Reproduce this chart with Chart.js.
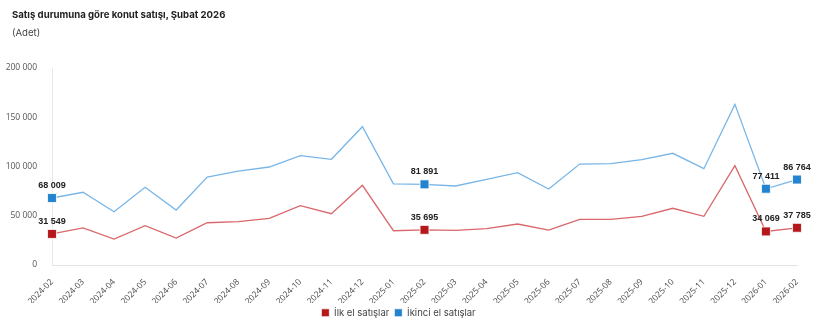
<!DOCTYPE html>
<html>
<head>
<meta charset="utf-8">
<script src="https://cdn.jsdelivr.net/npm/chart.js@4.4.1/dist/chart.umd.min.js"></script>
<style>
  html, body { margin: 0; padding: 0; background: #fff; }
  #wrap { position: relative; width: 820px; height: 323px; }
  #title { position: absolute; left: 12px; top: 9px; font: bold 9.6px Inter, "Noto Sans", sans-serif; color: #222; }
  #sub { position: absolute; left: 12px; top: 27px; font: 9.6px Inter, "Noto Sans", sans-serif; color: #444; }
</style>
</head>
<body>
<div id="wrap">
  <canvas id="chart" width="820" height="323"></canvas>
  <div id="title">Satış durumuna göre konut satışı, Şubat 2026</div>
  <div id="sub">(Adet)</div>
</div>
<script>
// months
const months = [
  "2024-02", "2024-03", "2024-04", "2024-05", "2024-06", "2024-07", "2024-08",
  "2024-09", "2024-10", "2024-11", "2024-12", "2025-01", "2025-02", "2025-03",
  "2025-04", "2025-05", "2025-06", "2025-07", "2025-08", "2025-09", "2025-10",
  "2025-11", "2025-12", "2026-01", "2026-02"
];

// ilk el satışlar (first-hand)
const ilkEl = [
  31549, 37600, 26400, 39900, 27400, 42900, 44000, 47400, 60200, 52100, 80900,
  34800, 35695, 35200, 36900, 41600, 35500, 46400, 46400, 49400, 57600, 49400,
  100800, 34069, 37785
];

// ikinci el satışlar (second-hand)
const ikinciEl = [
  68009, 73800, 54100, 78900, 55800, 89300, 95400, 99500, 111000, 107300, 140400,
  82300, 81891, 80200, 87000, 93700, 77200, 102500, 102900, 106900, 113400, 97800,
  163100, 77411, 86764
];

const yTicks = [0, 50000, 100000, 150000, 200000];

// indices that get a marker + value label
const marked = [0, 12, 23, 24];

const fmt = (v) => String(v).replace(/\B(?=(\d{3})+(?!\d))/g, " ");

const valueLabels = {
  id: "valueLabels",
  afterDatasetsDraw(chart) {
    const ctx = chart.ctx;
    ctx.save();
    ctx.font = "bold 9px 'Liberation Sans', Arial, sans-serif";
    ctx.fillStyle = "#222";
    ctx.textAlign = "center";
    ctx.textBaseline = "alphabetic";
    chart.data.datasets.forEach((ds, i) => {
      const meta = chart.getDatasetMeta(i);
      marked.forEach((idx) => {
        const pt = meta.data[idx];
        ctx.fillText(fmt(ds.data[idx]), pt.x, pt.y - 10);
      });
    });
    ctx.restore();
  }
};

// keep the legend strip short so it sits low under the rotated labels
const legendHeight = {
  id: "legendHeight",
  afterInit(chart) {
    const lg = chart.legend;
    if (!lg) return;
    const fit = lg.fit;
    lg.fit = function () { fit.call(this); this.height = 19; };
  }
};

const pointSize = (c) => (marked.includes(c.dataIndex) ? 6.3 : 0);

new Chart(document.getElementById("chart"), {
  type: "line",
  data: {
    labels: months,
    datasets: [{
      label: "İlk el satışlar",
      data: ilkEl,
      borderColor: "#d9676b",
      backgroundColor: "#b5171b",
      borderWidth: 1.3,
      pointStyle: "rect",
      pointRadius: pointSize,
      pointHoverRadius: pointSize,
      pointBackgroundColor: "#b5171b",
      pointBorderColor: "#ffffff",
      pointBorderWidth: 0.8,
      tension: 0
    }, {
      label: "İkinci el satışlar",
      data: ikinciEl,
      borderColor: "#78b6e8",
      backgroundColor: "#2383cf",
      borderWidth: 1.3,
      pointStyle: "rect",
      pointRadius: pointSize,
      pointHoverRadius: pointSize,
      pointBackgroundColor: "#2383cf",
      pointBorderColor: "#ffffff",
      pointBorderWidth: 0.8,
      tension: 0
    }]
  },
  options: {
    responsive: false,
    animation: false,
    layout: { padding: { left: 0, right: 23, top: 68, bottom: 1 } },
    scales: {
      x: {
        offset: false,
        grid: { display: false },
        border: { display: true, color: "#e4e4e4" },
        afterFit: (s) => { s.height = 38; },
        ticks: {
          autoSkip: false,
          maxRotation: 45,
          minRotation: 45,
          padding: 4,
          color: "#444",
          font: { family: "'Open Sans', sans-serif", size: 8.5 }
        }
      },
      y: {
        min: 0,
        max: 200000,
        afterFit: (s) => { s.width = 52; },
        afterBuildTicks: (s) => { s.ticks = yTicks.map((v) => ({ value: v })); },
        grid: { display: false },
        border: { display: true, color: "#e8e8e8" },
        ticks: {
          padding: 7,
          color: "#555",
          font: { family: "'Open Sans', sans-serif", size: 8.5 },
          callback: (v) => fmt(v)
        }
      }
    },
    plugins: {
      legend: {
        position: "bottom",
        labels: {
          usePointStyle: true,
          pointStyle: "rect",
          boxWidth: 8,
          boxHeight: 8,
          padding: 5,
          color: "#444",
          font: { family: "Inter, sans-serif", size: 9.5 }
        }
      },
      tooltip: { enabled: false }
    }
  },
  plugins: [valueLabels, legendHeight]
});
</script>
</body>
</html>
